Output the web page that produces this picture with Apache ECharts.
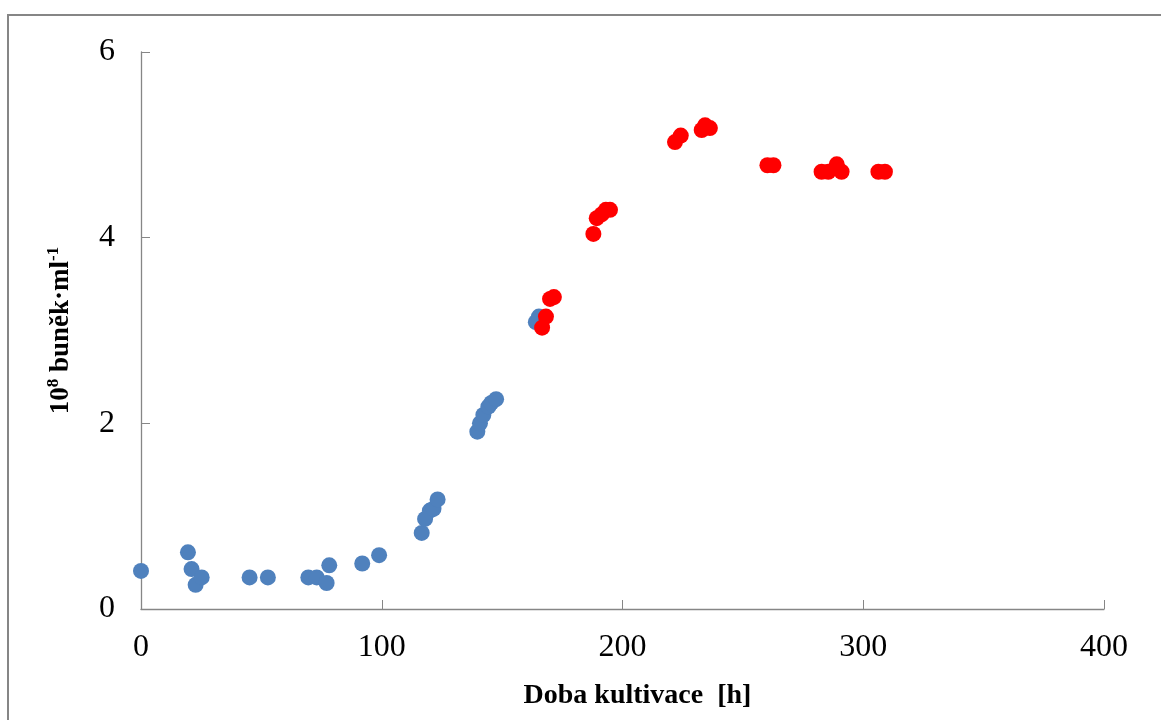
<!DOCTYPE html>
<html>
<head>
<meta charset="utf-8">
<script src="https://cdn.jsdelivr.net/npm/echarts@6/dist/echarts.min.js"></script>
<style>
  html, body { margin: 0; padding: 0; background: #fff; }
  #chart { width: 1161px; height: 720px; }
</style>
</head>
<body>
<div id="chart"></div>
<script>
// Cell density over cultivation time (two phases)
const phase1Time = [0, 19.5, 21, 22.7, 25.2, 45.1, 52.7, 69.5, 73, 77.1, 78.2, 91.9, 98.9,
  116.6, 118, 120, 121.5, 123.2, 139.7, 140.8, 142.2, 144.3, 145.5, 147.5, 164, 165.3];
const phase1Cells = [0.41, 0.61, 0.43, 0.26, 0.34, 0.34, 0.34, 0.34, 0.34, 0.28, 0.47, 0.49, 0.58,
  0.82, 0.97, 1.06, 1.08, 1.18, 1.91, 2.0, 2.09, 2.18, 2.22, 2.26, 3.09, 3.15];

const phase2Time = [166.6, 168.2, 169.9, 171.5, 187.9, 189.3, 191.3, 193.1, 194.8, 221.8, 224.2,
  232.9, 234.3, 236.3, 260.2, 262.7, 282.7, 285.5, 289, 291, 306.3, 309];
const phase2Cells = [3.03, 3.15, 3.34, 3.36, 4.04, 4.21, 4.25, 4.30, 4.30, 5.03, 5.10,
  5.16, 5.21, 5.18, 4.78, 4.78, 4.71, 4.71, 4.79, 4.71, 4.71, 4.71];

const xTicks = [0, 100, 200, 300, 400];
const yTicks = [0, 2, 4, 6];
const xTitle = 'Doba kultivace  [h]';

const pair = (xs, ys) => xs.map((x, i) => [x, ys[i]]);

const serif = '"Liberation Serif", "Times New Roman", serif';
const axisGray = '#868686';

const chart = echarts.init(document.getElementById('chart'), null, { renderer: 'canvas' });
chart.setOption({
  animation: false,
  backgroundColor: '#ffffff',
  grid: { left: 141, right: 57, top: 52, bottom: 111, containLabel: false },
  graphic: [{
    type: 'rect',
    shape: { x: 8, y: 15, width: 1300, height: 900 },
    style: { fill: 'none', stroke: axisGray, lineWidth: 2 },
    silent: true, z: -1
  }],
  xAxis: {
    type: 'value',
    min: xTicks[0], max: xTicks[xTicks.length - 1], interval: 100,
    splitLine: { show: false },
    axisLine: { lineStyle: { color: axisGray, width: 1.3 } },
    axisTick: { inside: true, length: 9, lineStyle: { color: axisGray } },
    axisLabel: { fontFamily: serif, fontSize: 32, color: '#000', margin: 23 },
    name: xTitle,
    nameLocation: 'middle',
    nameGap: 73,
    nameTextStyle: { fontFamily: serif, fontSize: 28, fontWeight: 'bold', color: '#000', padding: [0, 0, 0, 30] }
  },
  yAxis: {
    type: 'value',
    min: yTicks[0], max: yTicks[yTicks.length - 1], interval: 2,
    splitLine: { show: false },
    axisLine: { show: true, lineStyle: { color: axisGray, width: 1.3 } },
    axisTick: { show: true, inside: true, length: 9, lineStyle: { color: axisGray } },
    axisLabel: { fontFamily: serif, fontSize: 32, color: '#000', margin: 26, padding: [6, 0, 0, 0] },
    name: '{b|10}{s|8}{b| buněk·ml}{s|-1}',
    nameLocation: 'middle',
    nameGap: 66,
    nameTextStyle: {
      fontFamily: serif, color: '#000',
      rich: {
        b: { fontFamily: serif, fontSize: 27, fontWeight: 'bold', color: '#000', verticalAlign: 'bottom', lineHeight: 30 },
        s: { fontFamily: serif, fontSize: 17, fontWeight: 'bold', color: '#000', verticalAlign: 'top', lineHeight: 30 }
      }
    }
  },
  series: [
    {
      type: 'scatter',
      data: pair(phase1Time, phase1Cells),
      symbol: 'circle', symbolSize: 16,
      itemStyle: { color: '#4F81BD', opacity: 1 }
    },
    {
      type: 'scatter',
      data: pair(phase2Time, phase2Cells),
      symbol: 'circle', symbolSize: 16,
      itemStyle: { color: '#FF0000', opacity: 1 }
    }
  ]
});
</script>
</body>
</html>
